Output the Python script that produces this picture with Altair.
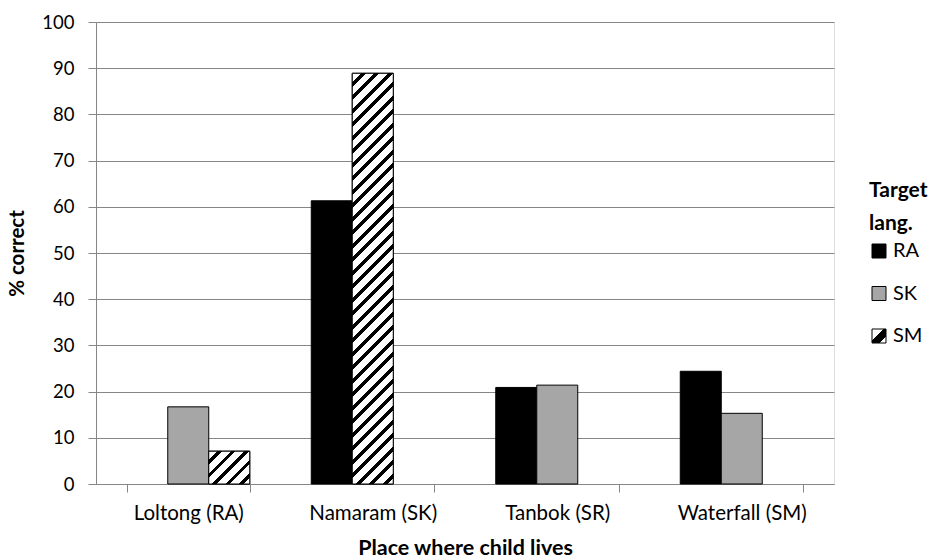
import altair as alt
import pandas as pd

# ---- data ----
categories = ["Loltong (RA)", "Namaram (SK)", "Tanbok (SR)", "Waterfall (SM)"]
langs = ["RA", "SK", "SM"]

bar_place = ["Loltong (RA)", "Loltong (RA)", "Namaram (SK)", "Namaram (SK)",
             "Tanbok (SR)", "Tanbok (SR)", "Waterfall (SM)", "Waterfall (SM)"]
bar_lang = ["SK", "SM", "RA", "SM", "RA", "SK", "RA", "SK"]
bar_slot = ["SK", "SM", "RA", "SK", "RA", "SK", "RA", "SK"]
bar_value = [16.7, 7.1, 61.3, 88.9, 20.9, 21.4, 24.4, 15.3]

df = pd.DataFrame({"place": bar_place, "lang": bar_lang,
                   "slot": bar_slot, "value": bar_value})

# ---- layout / style ----
PLOT_W = 738
PLOT_H = 462
FONT = "Lato"
GRAY_LINE = "#868686"

step = PLOT_W / len(categories)
slot_w = step * (2 / 3) / len(langs)


def hatch(w, h, period=13.5, frac=0.36):
    """Linear-gradient stripes at 45 degrees ("/") for a bar of w x h pixels."""
    L = w + h
    d = w * w + h * h
    x2 = w * L / d
    y2 = h * L / d
    stops = [{"offset": 0, "color": "white"}]
    i = 0
    while True:
        s = i * period / L
        if s >= 1:
            break
        we = min(1.0, s + (1 - frac) * period / L)
        be = min(1.0, s + period / L)
        stops.append({"offset": round(we, 5), "color": "white"})
        stops.append({"offset": round(we, 5), "color": "black"})
        stops.append({"offset": round(be, 5), "color": "black"})
        stops.append({"offset": round(be, 5), "color": "white"})
        i += 1
    return {"gradient": "linear", "x1": 0, "y1": 0,
            "x2": round(x2, 5), "y2": round(y2, 5), "stops": stops}


legend_hatch_expr = (
    "{gradient: 'linear', x1: 0, y1: 0, x2: 1, y2: 1, stops: ["
    "{offset: 0, color: 'white'}, {offset: 0.4, color: 'white'}, "
    "{offset: 0.4, color: 'black'}, {offset: 0.76, color: 'black'}, "
    "{offset: 0.76, color: 'white'}, {offset: 1, color: 'white'}]}"
)

x_enc = alt.X(
    "place:N",
    scale=alt.Scale(domain=categories, paddingInner=1 / 3, paddingOuter=1 / 6),
    axis=alt.Axis(
        title="Place where child lives", tickBand="extent", labelAngle=0,
        grid=False, domainColor=GRAY_LINE, tickColor=GRAY_LINE, tickSize=8,
        labelFontSize=20.5, labelPadding=11, labelColor="black",
        titleFontSize=21.5, titleFontWeight="bold", titleColor="black",
        titlePadding=14,
    ),
)
xoff_enc = alt.XOffset("slot:N", scale=alt.Scale(domain=langs, paddingInner=0, paddingOuter=0))
y_enc = alt.Y(
    "value:Q",
    scale=alt.Scale(domain=[0, 100], nice=False),
    axis=alt.Axis(
        title="% correct", values=list(range(0, 101, 10)), grid=True,
        gridColor=GRAY_LINE, gridWidth=1, domainColor=GRAY_LINE,
        tickColor=GRAY_LINE, tickSize=8, labelFontSize=18.5, labelPadding=14,
        labelColor="black", titleFontSize=20.5, titleFontWeight="bold",
        titleColor="black", titlePadding=14,
    ),
)

base = alt.Chart(df).encode(x=x_enc, xOffset=xoff_enc, y=y_enc)

bars = base.mark_bar(stroke="black", strokeWidth=1).encode(
    fill=alt.Fill(
        "lang:N",
        scale=alt.Scale(domain=langs,
                        range=["#000000", "#a6a6a6", alt.ExprRef(expr=legend_hatch_expr)]),
        legend=alt.Legend(
            title=["Target", "lang."], orient="none", legendX=773, legendY=158,
            titleFontSize=21, titleFontWeight="bold", titleColor="black",
            titleLineHeight=33, titlePadding=7,
            labelFontSize=20, labelColor="black", labelOffset=4,
            symbolType="square", symbolSize=196, symbolStrokeColor="black",
            symbolStrokeWidth=1, rowPadding=22.5,
        ),
    )
)

hatch_layers = []
for p, lg, v in zip(bar_place, bar_lang, bar_value):
    if lg != "SM":
        continue
    grad = hatch(slot_w, v / 100 * PLOT_H)
    hatch_layers.append(
        base.mark_bar(stroke="black", strokeWidth=1)
        .encode(fill=alt.value(grad))
        .transform_filter((alt.datum.place == p) & (alt.datum.lang == lg))
    )

chart = (
    alt.layer(bars, *hatch_layers)
    .properties(width=PLOT_W, height=PLOT_H,
                padding={"left": 7, "top": 13, "right": 5, "bottom": 5})
    .configure_view(stroke=None)
    .configure(font=FONT)
)

chart.save("out.html", embed_options={"renderer": "svg", "actions": False})
